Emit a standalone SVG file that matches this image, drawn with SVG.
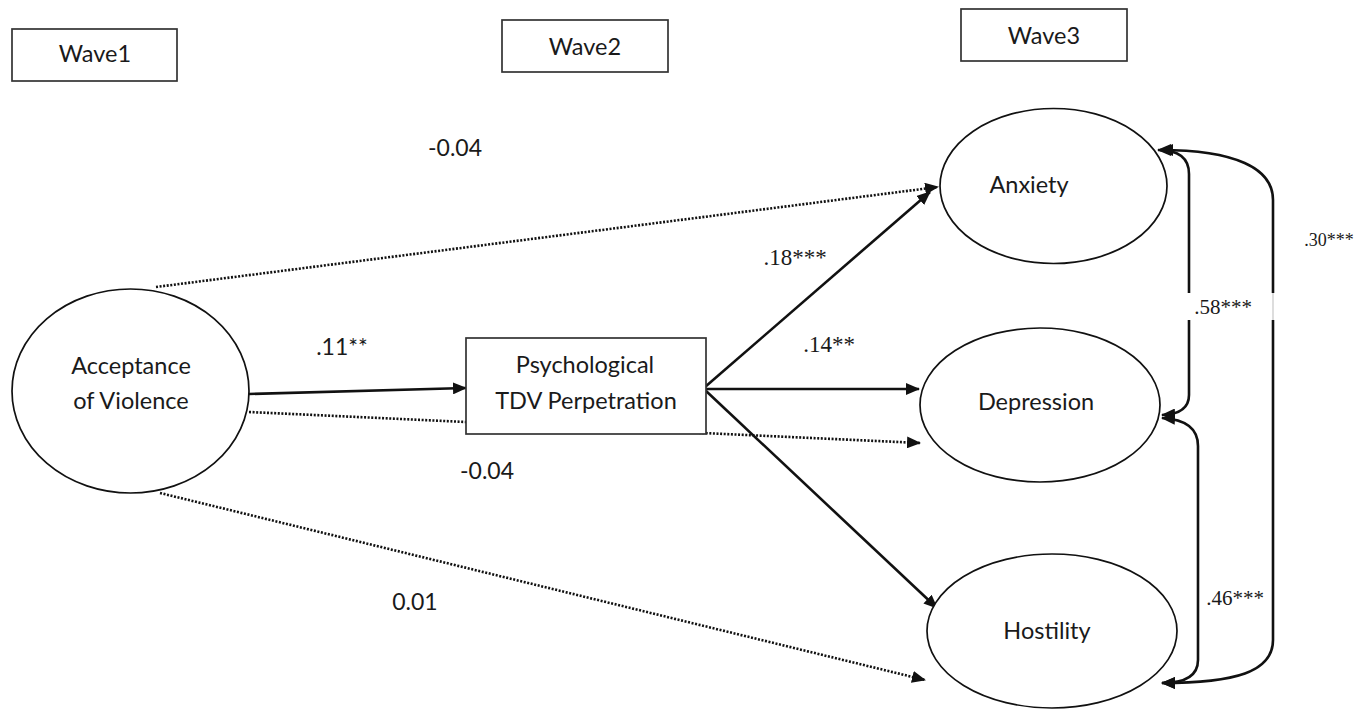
<svg xmlns="http://www.w3.org/2000/svg" width="1370" height="709" viewBox="0 0 1370 709">
<style>
.box{fill:#fff;stroke:#333;stroke-width:1.7}
.ell{fill:#fff;stroke:#111;stroke-width:1.7}
.lbl{font-family:Lato,"Liberation Sans",sans-serif;font-size:23.5px;fill:#1a1a1a;text-anchor:middle}
.num{font-family:Lato,"Liberation Sans",sans-serif;font-size:23px;fill:#1a1a1a;text-anchor:middle}
.ser{font-family:"Liberation Serif","Times New Roman",serif;fill:#1a1a1a;text-anchor:middle}
.sol{fill:none;stroke:#111;stroke-width:2.6}
.dot{fill:none;stroke:#111;stroke-width:2.6;stroke-dasharray:2 1.6}
</style>
<defs>
<marker id="ah" markerUnits="userSpaceOnUse" markerWidth="14" markerHeight="12" refX="13" refY="6" orient="auto-start-reverse" viewBox="0 0 14 12">
<path d="M0,0 L14,6 L0,12 z" fill="#111"/>
</marker>
</defs>
<rect width="1370" height="709" fill="#fff"/>

<g id="connectors">
<line class="dot" x1="156" y1="287" x2="938" y2="187" marker-end="url(#ah)"/>
<line class="dot" x1="249" y1="412" x2="920" y2="443" marker-end="url(#ah)"/>
<line class="dot" x1="160" y1="493" x2="925" y2="680" marker-end="url(#ah)"/>
<line class="sol" x1="249" y1="394" x2="466" y2="388" marker-end="url(#ah)"/>
<line class="sol" x1="705" y1="387" x2="930" y2="192" marker-end="url(#ah)"/>
<line class="sol" x1="705" y1="389" x2="919" y2="389" marker-end="url(#ah)"/>
<line class="sol" x1="705" y1="390" x2="937" y2="608" marker-end="url(#ah)"/>
<path class="sol" d="M1160,150 C1235,150 1273,168 1273,200 V640 C1273,672 1235,683 1162,683" marker-start="url(#ah)" marker-end="url(#ah)"/>
<path class="sol" d="M1158,150 Q1189,150 1189,174 V395 Q1189,414 1162,415" marker-start="url(#ah)" marker-end="url(#ah)"/>
<path class="sol" d="M1162,418 Q1198,420 1198,446 V660 Q1198,683 1162,683" marker-start="url(#ah)" marker-end="url(#ah)"/>
<rect x="1186" y="293" width="90" height="27" fill="#fff"/>
<line x1="1273" y1="293" x2="1273" y2="320" stroke="#aaa" stroke-width="0.8"/>
</g>

<g id="wave1"><rect class="box" x="12" y="29" width="165" height="52"/><text class="lbl" x="95" y="62">Wave1</text></g>
<g id="wave2"><rect class="box" x="502" y="20" width="166" height="52"/><text class="lbl" x="585" y="55">Wave2</text></g>
<g id="wave3"><rect class="box" x="961" y="9" width="166" height="52"/><text class="lbl" x="1044" y="44">Wave3</text></g>

<g id="acceptance"><ellipse class="ell" cx="130.5" cy="391" rx="118.5" ry="102"/><text class="lbl" x="131" y="374">Acceptance</text><text class="lbl" x="131" y="409">of Violence</text></g>
<g id="psych"><rect class="box" x="466" y="338" width="240" height="96"/><text class="lbl" x="585" y="373">Psychological</text><text class="lbl" x="586" y="409">TDV Perpetration</text></g>
<g id="anxiety"><ellipse class="ell" cx="1053.5" cy="186" rx="113.5" ry="77.5"/><text class="lbl" x="1029" y="193">Anxiety</text></g>
<g id="depression"><ellipse class="ell" cx="1040" cy="405" rx="120" ry="77"/><text class="lbl" x="1036" y="410">Depression</text></g>
<g id="hostility"><ellipse class="ell" cx="1052" cy="631" rx="125" ry="77"/><text class="lbl" x="1047" y="639">Hostility</text></g>

<g id="labels">
<text class="num" x="455" y="156">-0.04</text>
<text class="num" x="342" y="355">.11**</text>
<text class="num" x="487" y="479">-0.04</text>
<text class="num" x="415" y="610">0.01</text>
<text class="ser" x="795" y="265" font-size="23">.18***</text>
<text class="ser" x="829" y="352" font-size="23">.14**</text>
<text class="ser" x="1223" y="314" font-size="21">.58***</text>
<text class="ser" x="1235" y="605" font-size="21">.46***</text>
<text class="ser" x="1329" y="246" font-size="18">.30***</text>
</g>
</svg>
